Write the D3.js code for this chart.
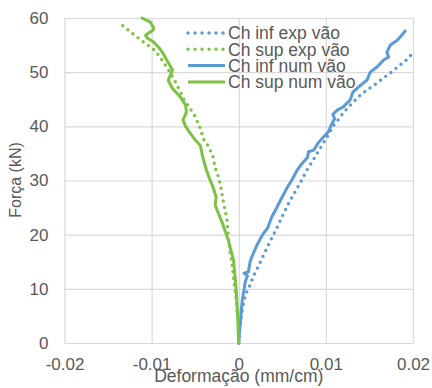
<!DOCTYPE html>
<html><head><meta charset="utf-8">
<script src="https://cdn.jsdelivr.net/npm/d3@7"></script>
<style>html,body{margin:0;padding:0;background:#fff;}svg{display:block;font-family:"Liberation Sans",Arial,sans-serif;}</style>
</head><body>
<svg id="c" width="432" height="388"></svg>
<script>
const seriesNames = ["Ch inf exp vão","Ch sup exp vão","Ch inf num vão","Ch sup num vão"];
const xTicks = [-0.02,-0.01,0,0.01,0.02];
const xTickLabels = ["-0.02","-0.01","0","0.01","0.02"];
const yTicks = [0,10,20,30,40,50,60];
const xTitle = "Deformação (mm/cm)";
const yTitle = "Força (kN)";

// [strain, force]
const infExp = [[0,0],[0.0001,2.4],[0.0003,5.2],[0.0006,7.9],[0.001,9.8],[0.0013,10.7],[0.0017,12.4],[0.0022,14],[0.0027,15.7],[0.0032,17.4],[0.0036,18.8],[0.0043,21],[0.005,23.4],[0.0057,25.7],[0.0064,27.7],[0.0071,29.7],[0.0077,31.6],[0.0084,33.4],[0.0091,35.3],[0.0097,36.9],[0.0103,38.4],[0.0108,40],[0.0114,41.2],[0.012,42.5],[0.0128,43.9],[0.0137,45.4],[0.0147,46.7],[0.0157,47.8],[0.0166,48.9],[0.0175,50],[0.0185,51.3],[0.0195,52.6],[0.0199,53.5]];
const supExp = [[0,0],[-0.0001,4.2],[-0.0003,8],[-0.0004,9.4],[-0.0006,12],[-0.00075,14.4],[-0.001,16.8],[-0.0012,19.4],[-0.0013,22.3],[-0.0015,24],[-0.0017,25.5],[-0.0019,27.3],[-0.0021,29.2],[-0.0024,31],[-0.0027,32.3],[-0.003,34.7],[-0.0036,36.6],[-0.004,37.5],[-0.0045,40],[-0.0051,42.1],[-0.0063,45],[-0.0072,48],[-0.0079,50],[-0.0087,52],[-0.0096,54],[-0.0113,56],[-0.0124,57.4],[-0.0134,58.7]];
const infNum = [[0,0],[0.0001,2.4],[0.0002,3.9],[0.0003,6.1],[0.0004,7.9],[0.0006,9.8],[0.00075,11.3],[0.001,12.4],[0.0006,12.9],[0.0011,13.1],[0.0013,15],[0.0015,15.9],[0.0021,18.1],[0.0027,19.9],[0.0033,21.2],[0.0038,23.3],[0.0044,25.1],[0.005,27],[0.0056,28.8],[0.0061,30.1],[0.0067,31.9],[0.0073,33.2],[0.0079,34.3],[0.008,35.3],[0.0086,35.6],[0.0091,36.9],[0.0097,38],[0.0103,39],[0.0106,40.2],[0.011,41.4],[0.0108,42.2],[0.0113,43],[0.012,43.6],[0.0128,44.9],[0.0131,46.3],[0.014,47.6],[0.0147,48.5],[0.0151,50],[0.0159,51],[0.0166,52.2],[0.0172,52.8],[0.017,53.7],[0.0174,55],[0.0182,55.9],[0.0189,57.2],[0.0191,57.6]];
const supNum = [[0,0],[-0.0001,4.2],[-0.0003,10],[-0.0006,15.3],[-0.0012,19],[-0.0018,21.8],[-0.0024,24.2],[-0.0027,25.5],[-0.0026,27],[-0.003,29],[-0.0033,30.1],[-0.0037,31.9],[-0.0041,34.1],[-0.0043,35.6],[-0.0044,36.4],[-0.005,37.5],[-0.0056,38.8],[-0.0061,40],[-0.0064,41.2],[-0.006,42.6],[-0.0061,43.9],[-0.0067,45.4],[-0.0076,47],[-0.0081,48.5],[-0.0076,50.4],[-0.0081,51.8],[-0.0087,53.5],[-0.0092,54.6],[-0.0098,55.6],[-0.0105,56.3],[-0.0107,56.8],[-0.0104,57.2],[-0.0098,57.8],[-0.0098,58.3],[-0.0102,59.3],[-0.0111,60]];

const blue = "#5b9bd5", green = "#7dc242";
const series = [
  {name: seriesNames[0], data: infExp, color: blue, dotted: true},
  {name: seriesNames[1], data: supExp, color: green, dotted: true},
  {name: seriesNames[2], data: infNum, color: blue, dotted: false},
  {name: seriesNames[3], data: supNum, color: green, dotted: false}
];

const svg = d3.select("#c");
const L = 64.5, R = 413, T = 18, B = 343;
const x = d3.scaleLinear().domain([-0.02,0.02]).range([L,R]);
const y = d3.scaleLinear().domain([0,60]).range([B,T]);
const textColor = "#595959";

// gridlines
const gx = svg.append("g").attr("transform",`translate(0,${B})`)
  .call(d3.axisBottom(x).tickValues(xTicks).tickSize(-(B-T)).tickFormat((d,i)=>xTickLabels[i]).tickPadding(10));
gx.select(".domain").remove();
gx.selectAll(".tick line").attr("stroke","#d9d9d9").attr("stroke-width",1.2);
gx.selectAll(".tick text").attr("fill",textColor).style("font-size","17px").attr("dy",null).attr("y",27);

const gy = svg.append("g").attr("transform",`translate(${L},0)`)
  .call(d3.axisLeft(y).tickValues(yTicks).tickSize(-(R-L)).tickFormat(d3.format("d")).tickPadding(16));
gy.select(".domain").remove();
gy.selectAll(".tick line").attr("stroke","#d9d9d9").attr("stroke-width",1.2);
gy.selectAll(".tick text").attr("fill",textColor).style("font-size","17px");

// lines
const line = d3.line().x(d=>x(d[0])).y(d=>y(d[1]));
series.forEach(s=>{
  svg.append("path").datum(s.data).attr("d",line).attr("fill","none")
    .attr("stroke",s.color).attr("stroke-width",s.dotted?3.4:3)
    .attr("stroke-linecap","round").attr("stroke-linejoin","round")
    .attr("stroke-dasharray",s.dotted?"0 6.5":null);
});

// legend
const lg = svg.append("g");
series.forEach((s,i)=>{
  const yy = 33 + i*16.3;
  lg.append("line").attr("x1",188).attr("x2",225).attr("y1",yy).attr("y2",yy)
    .attr("stroke",s.color).attr("stroke-width",s.dotted?3.4:3)
    .attr("stroke-linecap",s.dotted?"round":"butt")
    .attr("stroke-dasharray",s.dotted?"0 7":null);
  lg.append("text").attr("x",228).attr("y",yy).attr("dy","0.36em")
    .attr("fill",textColor).style("font-size","17.5px").text(s.name);
});

// axis titles
svg.append("text").attr("x",(L+R)/2 + 0).attr("y",382).attr("text-anchor","middle")
  .attr("fill",textColor).style("font-size","17.5px").text(xTitle);
svg.append("text").attr("transform","translate(21,180) rotate(-90)").attr("text-anchor","middle")
  .attr("fill",textColor).style("font-size","16px").text(yTitle);
</script>
</body></html>
